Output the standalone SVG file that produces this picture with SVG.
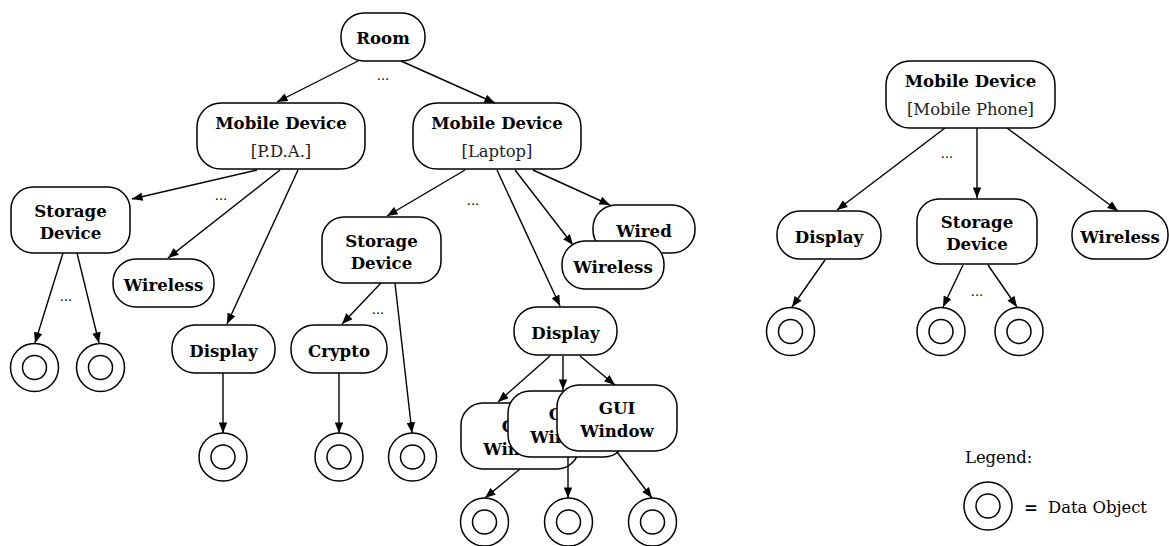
<svg xmlns="http://www.w3.org/2000/svg" width="1169" height="546" viewBox="0 0 1169 546">
  <style>
    .box { fill: #ffffff; stroke: #000000; stroke-width: 1.5; }
    .ring { fill: none; stroke: #000000; stroke-width: 1.5; }
    .edge { fill: none; stroke: #000000; stroke-width: 1.4; marker-end: url(#arrow); }
    .lbl { font-family: "DejaVu Serif", "Liberation Serif", serif; font-weight: bold; font-size: 16.6px; fill: #000; text-anchor: middle; }
    .sub { font-family: "DejaVu Serif", "Liberation Serif", serif; font-size: 16.4px; fill: #222; text-anchor: middle; }
    .dots { font-family: "DejaVu Serif", "Liberation Serif", serif; font-size: 13px; fill: #000; text-anchor: middle; }
    .note { font-family: "DejaVu Serif", "Liberation Serif", serif; font-size: 16.4px; fill: #000; }
  </style>
  <defs>
    <marker id="arrow" viewBox="0 0 10 8" refX="10" refY="4" markerWidth="11" markerHeight="8.5" markerUnits="userSpaceOnUse" orient="auto">
      <path d="M0,0 L10,4 L0,8 z" fill="#000"/>
    </marker>
    <g id="data">
      <circle class="ring" r="24"/>
      <circle class="ring" r="12"/>
    </g>
  </defs>

  <rect width="1169" height="546" fill="#ffffff"/>

  <!-- left tree: Room and its devices -->
  <g id="room"><rect class="box" x="341" y="13" width="84" height="48" rx="23"/><text class="lbl" x="383" y="44">Room</text></g>
  <g id="pda"><rect class="box" x="197" y="103" width="168" height="66" rx="24"/><text class="lbl" x="281" y="129">Mobile Device</text><text class="sub" x="281" y="157">[P.D.A.]</text></g>
  <g id="laptop"><rect class="box" x="413" y="103" width="168" height="66" rx="24"/><text class="lbl" x="497" y="129">Mobile Device</text><text class="sub" x="497" y="157">[Laptop]</text></g>
  <g id="pda-storage"><rect class="box" x="11" y="187" width="119" height="66" rx="22"/><text class="lbl" x="70.5" y="217">Storage</text><text class="lbl" x="70.5" y="239">Device</text></g>
  <g id="pda-wireless"><rect class="box" x="113" y="259" width="101" height="48" rx="23"/><text class="lbl" x="163.5" y="291">Wireless</text></g>
  <g id="pda-display"><rect class="box" x="172" y="325" width="103" height="48" rx="23"/><text class="lbl" x="223.5" y="357">Display</text></g>
  <g id="laptop-storage"><rect class="box" x="322" y="217" width="119" height="66" rx="22"/><text class="lbl" x="381.5" y="247">Storage</text><text class="lbl" x="381.5" y="269">Device</text></g>
  <g id="crypto"><rect class="box" x="291" y="325" width="96" height="48" rx="23"/><text class="lbl" x="339" y="357">Crypto</text></g>
  <g id="wired"><rect class="box" x="593" y="205" width="102" height="48" rx="23"/><text class="lbl" x="644" y="237">Wired</text></g>
  <g id="laptop-wireless"><rect class="box" x="562" y="241" width="102" height="48" rx="23"/><text class="lbl" x="613" y="273">Wireless</text></g>
  <g id="laptop-display"><rect class="box" x="514" y="307" width="103" height="48" rx="23"/><text class="lbl" x="565.5" y="339">Display</text></g>
  <!-- stacked GUI windows, later ones drawn over earlier ones -->
  <g id="gui-window-1"><rect class="box" x="461" y="403" width="118" height="66" rx="22"/><text class="lbl" x="520" y="432">GUI</text><text class="lbl" x="520" y="455">Window</text></g>
  <g id="gui-window-2"><rect class="box" x="508" y="391" width="118" height="66" rx="22"/><text class="lbl" x="567" y="420">GUI</text><text class="lbl" x="567" y="443">Window</text></g>
  <g id="gui-window-3"><rect class="box" x="557" y="385" width="120" height="66" rx="22"/><text class="lbl" x="617" y="414">GUI</text><text class="lbl" x="617" y="437">Window</text></g>

  <!-- data objects of the left tree -->
  <g id="data-1"><use href="#data" x="34.5" y="367.5"/></g>
  <g id="data-2"><use href="#data" x="100.5" y="367.5"/></g>
  <g id="data-3"><use href="#data" x="223" y="457"/></g>
  <g id="data-4"><use href="#data" x="339" y="457"/></g>
  <g id="data-5"><use href="#data" x="412.5" y="457"/></g>
  <g id="data-6"><use href="#data" x="484.5" y="522"/></g>
  <g id="data-7"><use href="#data" x="568.5" y="522"/></g>
  <g id="data-8"><use href="#data" x="652.5" y="522"/></g>

  <!-- right tree: mobile phone -->
  <g id="phone"><rect class="box" x="886" y="61" width="169" height="67" rx="24"/><text class="lbl" x="970.5" y="87">Mobile Device</text><text class="sub" x="970.5" y="115">[Mobile Phone]</text></g>
  <g id="phone-display"><rect class="box" x="777" y="211" width="104" height="48" rx="23"/><text class="lbl" x="829" y="243">Display</text></g>
  <g id="phone-storage"><rect class="box" x="917" y="199" width="120" height="65" rx="22"/><text class="lbl" x="977" y="228">Storage</text><text class="lbl" x="977" y="250">Device</text></g>
  <g id="phone-wireless"><rect class="box" x="1072" y="211" width="96" height="48" rx="23"/><text class="lbl" x="1120" y="243">Wireless</text></g>
  <g id="data-9"><use href="#data" x="790.5" y="331.5"/></g>
  <g id="data-10"><use href="#data" x="941" y="331.5"/></g>
  <g id="data-11"><use href="#data" x="1019" y="331.5"/></g>

  <!-- legend -->
  <g id="legend">
    <text class="note" x="965" y="463">Legend:</text>
    <use href="#data" x="988" y="506"/>
    <text class="lbl" x="1031" y="513">=</text>
    <text class="note" x="1048" y="513">Data Object</text>
  </g>

  <!-- connectors -->
  <g id="connectors">
    <line class="edge" x1="358" y1="61" x2="277" y2="102"/>
    <line class="edge" x1="401" y1="61" x2="495" y2="103"/>
    <line class="edge" x1="257" y1="170" x2="132" y2="199"/>
    <line class="edge" x1="280" y1="170" x2="168" y2="258"/>
    <line class="edge" x1="298" y1="170" x2="227" y2="324"/>
    <line class="edge" x1="63" y1="253" x2="35" y2="343"/>
    <line class="edge" x1="77" y1="253" x2="99" y2="343"/>
    <line class="edge" x1="223" y1="373" x2="223" y2="433"/>
    <line class="edge" x1="465" y1="170" x2="387" y2="216"/>
    <line class="edge" x1="497" y1="170" x2="560" y2="306"/>
    <line class="edge" x1="515" y1="170" x2="573" y2="245"/>
    <line class="edge" x1="533" y1="170" x2="610" y2="205"/>
    <line class="edge" x1="381" y1="283" x2="342" y2="324"/>
    <line class="edge" x1="395" y1="283" x2="412" y2="433"/>
    <line class="edge" x1="339" y1="373" x2="339" y2="433"/>
    <line class="edge" x1="550" y1="356" x2="498" y2="402"/>
    <line class="edge" x1="563" y1="356" x2="563" y2="390"/>
    <line class="edge" x1="580" y1="356" x2="615" y2="385"/>
    <line class="edge" x1="520" y1="469" x2="485" y2="498"/>
    <line class="edge" x1="568" y1="457" x2="568" y2="498"/>
    <line class="edge" x1="617" y1="452" x2="652" y2="498"/>
    <line class="edge" x1="945" y1="128" x2="837" y2="210"/>
    <line class="edge" x1="977" y1="128" x2="977" y2="198"/>
    <line class="edge" x1="1007" y1="128" x2="1118" y2="211"/>
    <line class="edge" x1="825" y1="260" x2="792" y2="307"/>
    <line class="edge" x1="963" y1="265" x2="943" y2="307"/>
    <line class="edge" x1="988" y1="265" x2="1017" y2="307"/>
  </g>

  <!-- elision marks between sibling edges -->
  <g id="ellipses">
    <text class="dots" x="383" y="80">...</text>
    <text class="dots" x="221" y="200">...</text>
    <text class="dots" x="66" y="301">...</text>
    <text class="dots" x="473" y="205">...</text>
    <text class="dots" x="378" y="314">...</text>
    <text class="dots" x="947" y="158">...</text>
    <text class="dots" x="977" y="296">...</text>
  </g>
</svg>
